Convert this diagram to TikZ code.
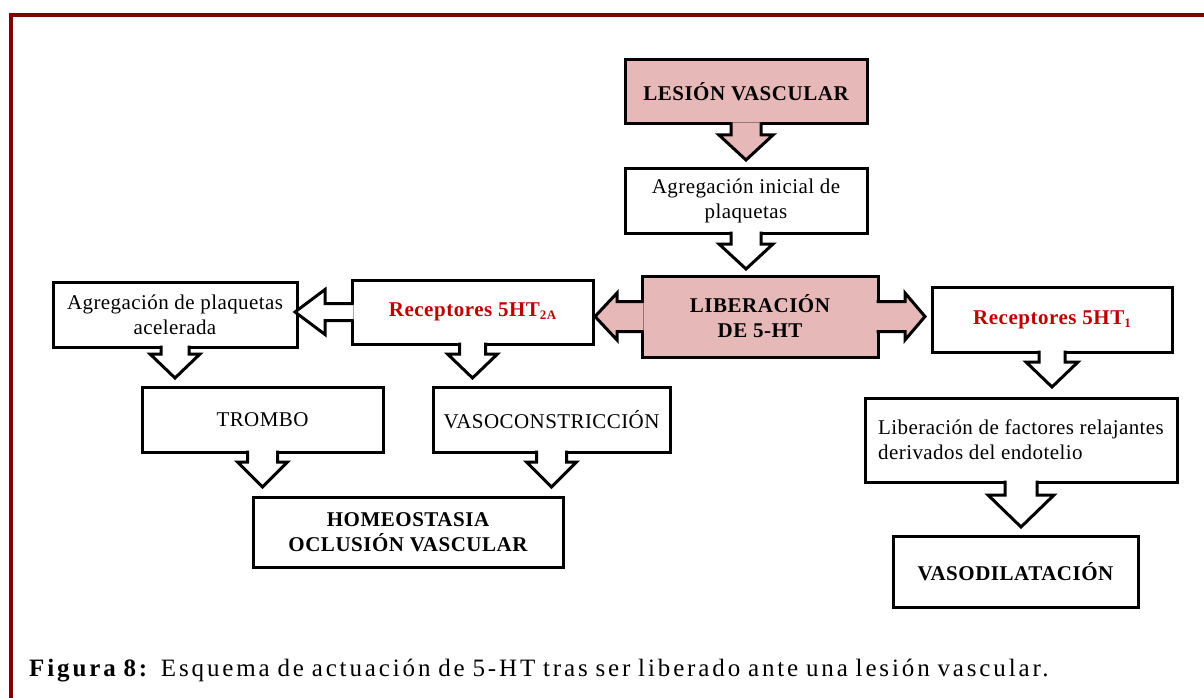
\documentclass[tikz,border=0pt]{standalone}
\usepackage{fontspec}
\setmainfont{Liberation Serif}
\newfontfamily\capfont[LetterSpace=11.5, WordSpace=0.85]{Liberation Serif}
\usetikzlibrary{calc}
\definecolor{framered}{HTML}{800000}
\definecolor{rose}{HTML}{E6B9B8}
\definecolor{redtxt}{HTML}{C00000}
\tikzset{
  stagebox/.style={rectangle, draw=black, line width=3pt, fill=white, outer sep=0pt,
    inner sep=0pt, align=center, font=\fontsize{21}{25}\selectfont\addfontfeature{LetterSpace=2}},
  keybox/.style={stagebox, fill=rose, font=\fontsize{21}{25}\selectfont\bfseries\addfontfeature{LetterSpace=2.5}},
  boldbox/.style={stagebox, font=\fontsize{21}{25}\selectfont\bfseries\addfontfeature{LetterSpace=2.5}},
  recbox/.style={stagebox, font=\fontsize{21}{25}\selectfont\bfseries\addfontfeature{LetterSpace=2.5}\color{redtxt}},
  blockarrow/.style={draw=black, line width=3pt, line join=miter},
}
% block arrow leaving the bottom of a box:
% #1 node, #2 fill, #3 half shaft, #4 half head, #5 shaft length, #6 head length
\newcommand\arrowbelow[6]{%
  \filldraw[blockarrow, fill=#2]
    ($(#1.south)+(-#3,-1.5)$) -- ($(#1.south)+(-#3,#5)$) -- ($(#1.south)+(-#4,#5)$)
    -- ($(#1.south)+(0,#5+#6)$) -- ($(#1.south)+(#4,#5)$) -- ($(#1.south)+(#3,#5)$)
    -- ($(#1.south)+(#3,-1.5)$);}
% block arrow leaving the left side of a box
\newcommand\arrowleft[6]{%
  \filldraw[blockarrow, fill=#2]
    ($(#1.west)+(1.5,-#3)$) -- ($(#1.west)+(-#5,-#3)$) -- ($(#1.west)+(-#5,-#4)$)
    -- ($(#1.west)+(-#5-#6,0)$) -- ($(#1.west)+(-#5,#4)$) -- ($(#1.west)+(-#5,#3)$)
    -- ($(#1.west)+(1.5,#3)$);}
% block arrow leaving the right side of a box
\newcommand\arrowright[6]{%
  \filldraw[blockarrow, fill=#2]
    ($(#1.east)+(-1.5,-#3)$) -- ($(#1.east)+(#5,-#3)$) -- ($(#1.east)+(#5,-#4)$)
    -- ($(#1.east)+(#5+#6,0)$) -- ($(#1.east)+(#5,#4)$) -- ($(#1.east)+(#5,#3)$)
    -- ($(#1.east)+(-1.5,#3)$);}
\newcommand\subidx[1]{\raisebox{-0.3ex}{\fontsize{13}{13}\selectfont #1}}

\begin{document}
\begin{tikzpicture}[x=1pt, y=-1pt]
\useasboundingbox (0,0) rectangle (1204,698);
\clip (0,0) rectangle (1204,698);
\fill[white] (0,0) rectangle (1204,698);

% outer frame
\draw[framered, line width=4pt] (11,15.5) rectangle (1220,720);

% boxes
\node[keybox, minimum width=242pt, minimum height=64pt] (lesion) at (746,92) {LESIÓN VASCULAR};
\node[stagebox, minimum width=242pt, minimum height=65pt] (inicial) at (746,200.5) {Agregación inicial de\\plaquetas};
\node[keybox, minimum width=236pt, minimum height=81pt] (liber) at (760,316.5) {LIBERACIÓN\\DE 5-HT};
\node[recbox, minimum width=241pt, minimum height=64pt] (rdosa) at (472.5,312) {Receptores 5HT\subidx{2A}};
\node[stagebox, minimum width=244pt, minimum height=65pt] (acel) at (175,314.5) {Agregación de plaquetas\\acelerada};
\node[stagebox, minimum width=241pt, minimum height=65pt] (trombo) at (262.5,419.5) {TROMBO};
\node[stagebox, minimum width=237pt, minimum height=65pt] (vasoc) at (551.5,419.5) {VASOCONSTRICCIÓN};
\node[boldbox, minimum width=310pt, minimum height=70pt] (homeo) at (408,532) {HOMEOSTASIA\\OCLUSIÓN VASCULAR};
\node[recbox, minimum width=240pt, minimum height=65pt] (runo) at (1052,319.5) {Receptores 5HT\subidx{1}};
\node[stagebox, minimum width=312pt, minimum height=84pt, align=left] (factores) at (1021,440) {Liberación de factores relajantes\\derivados del endotelio};
\node[boldbox, minimum width=245pt, minimum height=71pt] (vasod) at (1015.5,571.5) {\raisebox{-6pt}{VASODILATACIÓN}};

% block arrows
\arrowbelow{lesion}{rose}{15}{27}{11}{25}
\arrowbelow{inicial}{white}{15}{27}{11}{25}
\arrowleft{liber}{rose}{15}{23.5}{25}{22}
\arrowright{liber}{rose}{15}{23.5}{27}{20}
\arrowleft{rdosa}{white}{8.5}{22.5}{27}{30}
\arrowbelow{rdosa}{white}{13}{25}{10}{24}
\arrowbelow{acel}{white}{14}{25}{7}{24}
\arrowbelow{trombo}{white}{15}{25}{10}{25}
\arrowbelow{vasoc}{white}{15}{25}{10}{25}
\arrowbelow{runo}{white}{13}{26}{10}{25}
\arrowbelow{factores}{white}{16}{33}{13}{32}

% caption
\node[anchor=base west, inner sep=0pt, font=\capfont\fontsize{25}{29}\selectfont] (caption) at (29,676)
  {\textbf{Figura 8:} Esquema de actuación de 5-HT tras ser liberado ante una lesión vascular.};
\end{tikzpicture}
\end{document}
